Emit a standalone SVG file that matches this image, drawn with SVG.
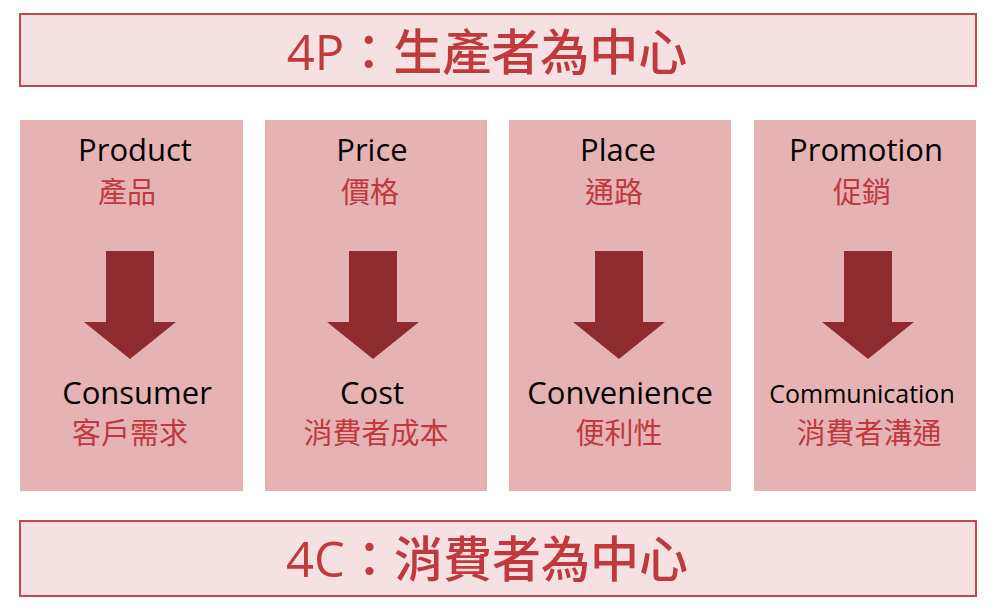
<svg xmlns="http://www.w3.org/2000/svg" width="1000" height="609" viewBox="0 0 1000 609">
<style>
.banner{fill:#f5e1e2;stroke:#c24a4d;stroke-width:2}
.col{fill:#e6b3b4}
.arrow{fill:#8e2b2e}
.en{font-family:"Open Sans","Noto Sans CJK TC",sans-serif;font-size:31px;font-weight:500;fill:#000;text-anchor:middle}
.zh{font-family:"Noto Sans CJK TC",sans-serif;font-size:29px;fill:#c0393c;text-anchor:middle}
.title{font-family:"Open Sans","Noto Sans CJK TC",sans-serif;font-size:49px;font-weight:500;fill:#c0393c;text-anchor:middle}
</style>
<defs>
<path id="arr" d="M-24,0 H24 V71 H46 L0,108 L-46,71 H-24 Z"/>
</defs>
<rect width="1000" height="609" fill="#fff"/>
<g id="top-banner">
<rect class="banner" x="20" y="14" width="956" height="72"/>
<text class="title" x="487" y="70">4P：生產者為中心</text>
</g>
<g id="col-product">
<rect class="col" x="20" y="120" width="223" height="371"/>
<text class="en" x="135" y="161">Product</text>
<text class="zh" x="127" y="203">產品</text>
<text class="en" x="137" y="404">Consumer</text>
<text class="zh" x="130" y="444">客戶需求</text>
</g>
<g id="col-price">
<rect class="col" x="265" y="120" width="222" height="371"/>
<text class="en" x="372" y="161">Price</text>
<text class="zh" x="370" y="203">價格</text>
<text class="en" x="372" y="404">Cost</text>
<text class="zh" x="376" y="444">消費者成本</text>
</g>
<g id="col-place">
<rect class="col" x="509" y="120" width="222" height="371"/>
<text class="en" x="618" y="161">Place</text>
<text class="zh" x="614" y="203">通路</text>
<text class="en" x="620" y="404">Convenience</text>
<text class="zh" x="619" y="444">便利性</text>
</g>
<g id="col-promotion">
<rect class="col" x="754" y="120" width="222" height="371"/>
<text class="en" x="866" y="161">Promotion</text>
<text class="zh" x="862" y="203">促銷</text>
<text class="en" x="862" y="403" style="font-size:25px">Communication</text>
<text class="zh" x="869" y="444">消費者溝通</text>
</g>
<g id="connectors">
<use href="#arr" class="arrow" x="130" y="251"/>
<use href="#arr" class="arrow" x="373" y="251"/>
<use href="#arr" class="arrow" x="619" y="251"/>
<use href="#arr" class="arrow" x="868" y="251"/>
</g>
<g id="bottom-banner">
<rect class="banner" x="20" y="521" width="956" height="75"/>
<text class="title" x="487" y="577">4C：消費者為中心</text>
</g>
</svg>
